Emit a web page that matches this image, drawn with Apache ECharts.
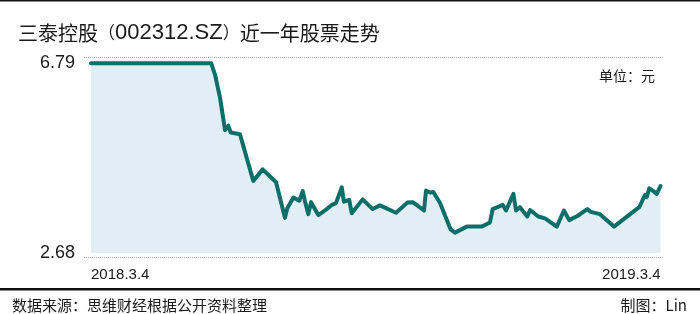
<!DOCTYPE html>
<html>
<head>
<meta charset="utf-8">
<script src="https://cdn.jsdelivr.net/npm/echarts@6/dist/echarts.min.js"></script>
<style>
html,body{margin:0;padding:0;background:#fff;}
#chart{width:700px;height:314px;}
</style>
</head>
<body>
<div id="chart"></div>
<script>
// Days since 2018-03-04
var days = [0, 77, 79.5, 82.7, 85.9, 88, 89.5, 95.5, 98.7, 104, 110, 118.6, 124.3, 125.8, 129.7, 133.5, 135.7, 137.2, 139.3, 141,
  145.7, 151.1, 154.3, 157, 160.7, 162.1, 165.5, 167.1, 174.1, 180.5, 185.2, 195.5, 202.7, 206.2, 213.4, 214.7, 217.3, 219.4, 223.7,
  230.5, 233.3, 240.8, 250.4, 255.7, 257.4, 263.9, 266, 270.7, 272.4, 274.9, 279.6, 281.4, 286.7, 291, 298.5, 303.1, 306.5, 311.7,
  318.1, 320.3, 326.2, 335.2, 349.7, 351.4, 355.1, 356.2, 357.8, 360, 362.6, 365];
// Closing price (元)
var prices = [6.79, 6.79, 6.54, 6.04, 5.34, 5.44, 5.29, 5.25, 4.87, 4.24, 4.49, 4.21, 3.44, 3.65, 3.88, 3.81, 4.02, 3.79, 3.52, 3.78,
  3.50, 3.63, 3.72, 3.76, 4.10, 3.79, 3.83, 3.54, 3.84, 3.63, 3.71, 3.55, 3.77, 3.78, 3.60, 4.03, 3.99, 4.00, 3.76,
  3.19, 3.12, 3.25, 3.25, 3.34, 3.63, 3.72, 3.60, 3.96, 3.60, 3.67, 3.47, 3.61, 3.47, 3.43, 3.25, 3.60, 3.39, 3.48,
  3.63, 3.57, 3.52, 3.25, 3.63, 3.67, 3.94, 3.89, 4.08, 4.03, 3.96, 4.13];
var yTickValues = [2.68, 6.79];
var xTickDays = [0, 365];
var xTickLabels = ['2018.3.4', '2019.3.4'];

var chart = echarts.init(document.getElementById('chart'), null, {renderer: 'canvas'});
var latin = 'Liberation Sans, Noto Sans CJK SC, sans-serif';
var cjk = 'Noto Sans CJK SC, Liberation Sans, sans-serif';
var seriesData = days.map(function (d, i) { return [d, prices[i]]; });

chart.setOption({
  animation: false,
  backgroundColor: '#fff',
  title: [
    {text: '{a|三泰控股}{p|（}{b|002312.SZ}{p|）}{a|近一年股票走势}', left: 13, top: 17,
     textStyle: {
       fontSize: 20, fontWeight: 'normal', color: '#1a1a1a', fontFamily: cjk,
       rich: {
         a: {fontSize: 20, color: '#1a1a1a', fontFamily: cjk},
         p: {fontSize: 17, color: '#1a1a1a', fontFamily: cjk},
         b: {fontSize: 22, color: '#1a1a1a', fontFamily: latin}
       }
     }},
    {text: '单位：元', right: 40, top: 64,
     textStyle: {fontSize: 14, fontWeight: 'normal', color: '#1a1a1a', fontFamily: cjk}},
    {text: '数据来源：思维财经根据公开资料整理', left: 7, top: 293,
     textStyle: {fontSize: 15, fontWeight: 'normal', color: '#1a1a1a', fontFamily: cjk}},
    {text: '制图：Lin', right: 8, top: 293,
     textStyle: {fontSize: 15, fontWeight: 'normal', color: '#1a1a1a', fontFamily: cjk}}
  ],
  graphic: [
    {type: 'rect', shape: {x: 0, y: 0, width: 700, height: 1.5}, style: {fill: '#111'}},
    {type: 'rect', shape: {x: 0, y: 288, width: 700, height: 2.5}, style: {fill: '#111'}}
  ],
  grid: {left: 84, right: 37, top: 57, bottom: 56, containLabel: false},
  xAxis: {
    type: 'value', min: -4.5, max: 366.6,
    axisLine: {show: false}, axisTick: {show: false}, splitLine: {show: false},
    axisLabel: {
      customValues: xTickDays,
      alignMinLabel: 'left', alignMaxLabel: 'right',
      formatter: function (v) { var i = xTickDays.indexOf(v); return i >= 0 ? xTickLabels[i] : ''; },
      fontSize: 15, color: '#1a1a1a', fontFamily: latin, margin: 9
    }
  },
  yAxis: {
    type: 'value', min: 2.57, max: 6.925,
    axisLine: {show: false}, axisTick: {show: false}, splitLine: {show: false},
    axisLabel: {
      customValues: yTickValues,
      formatter: function (v) { return v.toFixed(2); },
      fontSize: 18, color: '#1a1a1a', fontFamily: latin, margin: 9
    }
  },
  series: [{
    type: 'line',
    data: seriesData,
    symbol: 'none',
    smooth: false,
    clip: false,
    lineStyle: {color: '#0b6e69', width: 4, cap: 'round', join: 'round'},
    areaStyle: {color: '#e1eef6', opacity: 1, origin: 2.68},
    markLine: {
      silent: true, symbol: 'none', label: {show: false},
      lineStyle: {type: 'dotted', color: '#b0b0b0', width: 1},
      data: [{yAxis: 6.925}, {yAxis: 2.593}]
    }
  }]
});
</script>
</body>
</html>
